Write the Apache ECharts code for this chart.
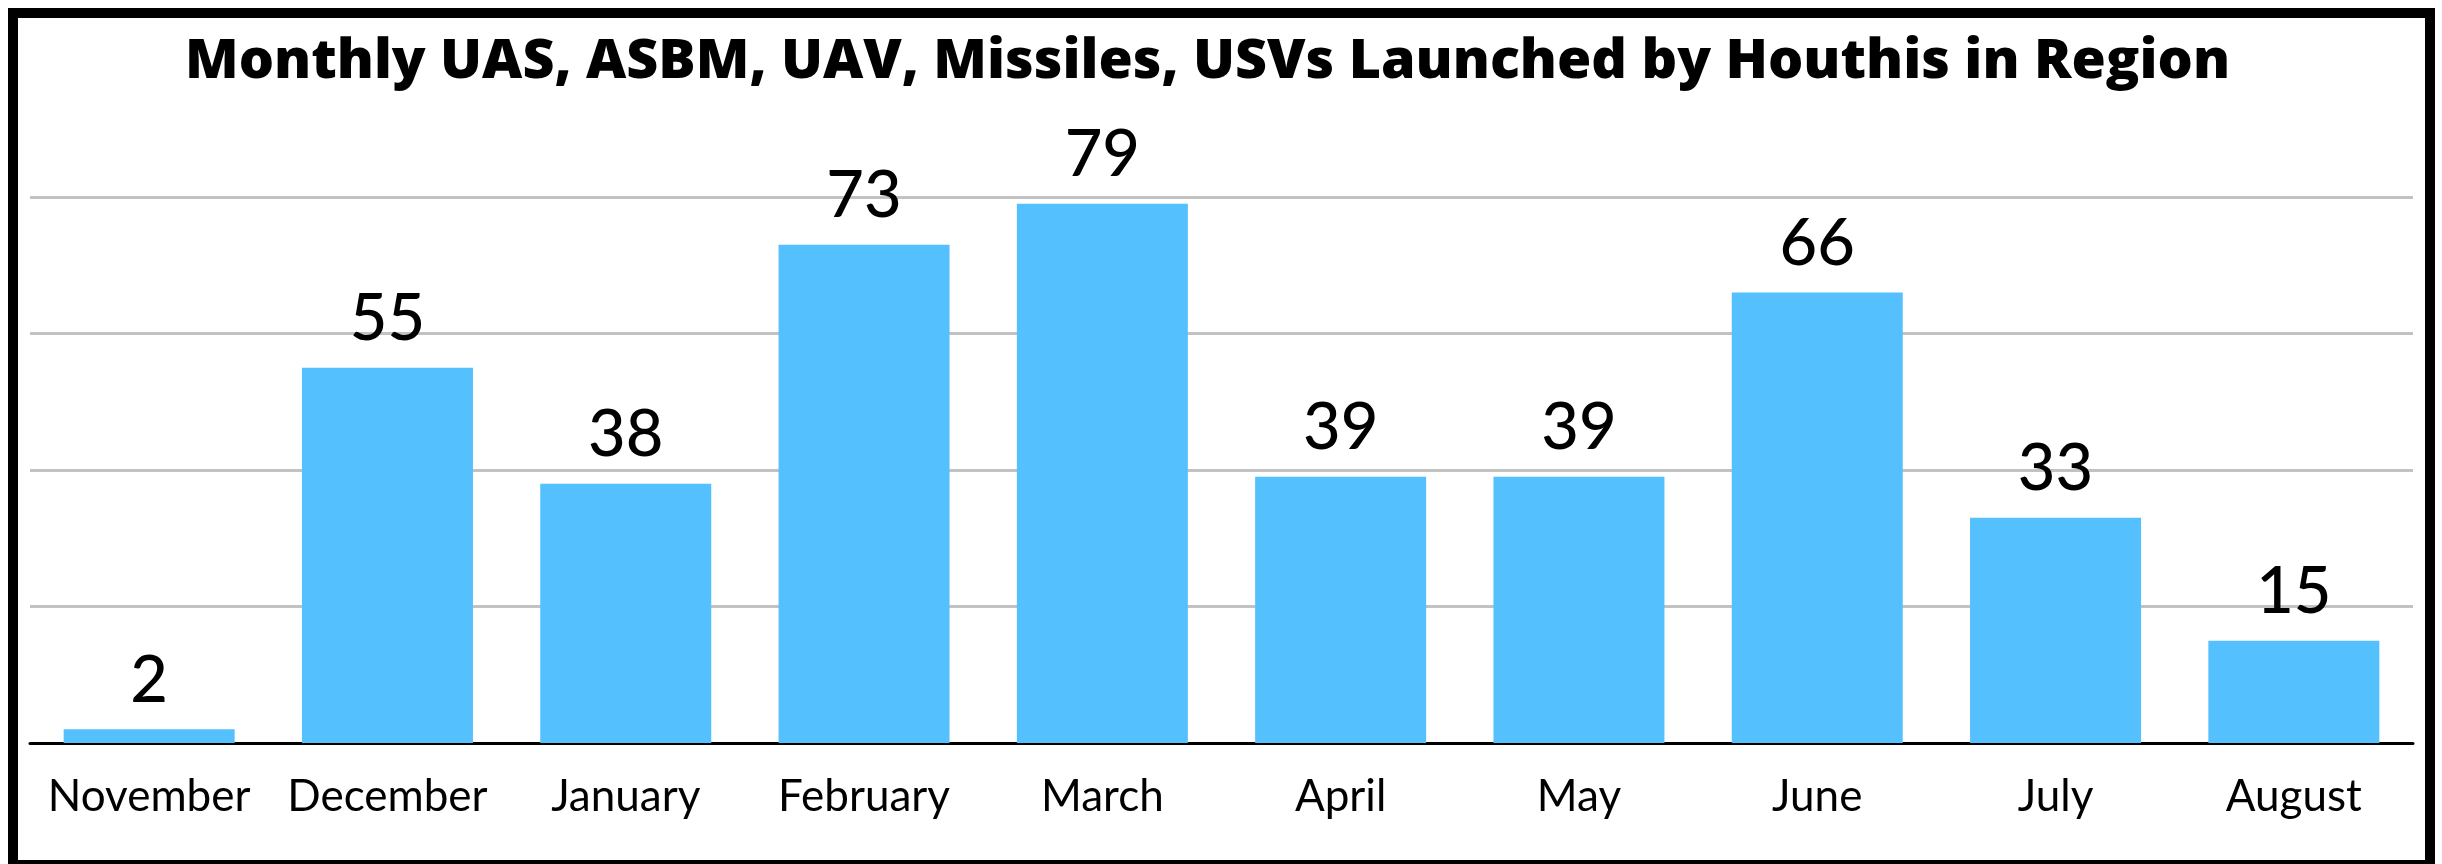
<!DOCTYPE html>
<html>
<head>
<meta charset="utf-8">
<script src="https://cdn.jsdelivr.net/npm/echarts@6/dist/echarts.min.js"></script>
<style>
  html, body { margin: 0; padding: 0; background: #ffffff; }
  #chart { width: 2442px; height: 864px; }
</style>
</head>
<body>
<div id="chart"></div>
<script>
// Monthly launch counts
const months = ['November', 'December', 'January', 'February', 'March', 'April', 'May', 'June', 'July', 'August'];
const launches = [2, 55, 38, 73, 79, 39, 39, 66, 33, 15];
const yTicks = [0, 20, 40, 60, 80];

const titleText = 'Monthly UAS, ASBM, UAV, Missiles, USVs Launched by Houthis in Region';
const fontFamily = 'Lato, "Noto Sans", sans-serif';

const chart = echarts.init(document.getElementById('chart'), null, { renderer: 'canvas' });

chart.setOption({
  backgroundColor: '#ffffff',
  animation: false,
  title: {
    text: titleText,
    left: 180,
    top: 29,
    textStyle: {
      fontFamily: '"Open Sans", Lato, sans-serif',
      fontWeight: 800,
      fontSize: 55.5,
      color: '#000000'
    }
  },
  graphic: [{
    type: 'rect',
    shape: { x: 13, y: 13, width: 2417, height: 852 },
    style: { fill: 'none', stroke: '#000000', lineWidth: 10 },
    silent: true,
    z: 100
  }],
  grid: { left: 30, right: 29, top: 197, bottom: 121 },
  xAxis: {
    type: 'category',
    data: months,
    axisTick: { show: false },
    axisLine: { lineStyle: { color: '#000000', width: 3 } },
    axisLabel: {
      margin: 32,
      fontFamily: fontFamily,
      fontSize: 44,
      color: '#000000',
      interval: 0
    }
  },
  yAxis: {
    type: 'value',
    min: yTicks[0],
    max: yTicks[yTicks.length - 1],
    interval: yTicks[1] - yTicks[0],
    axisLabel: { show: false },
    axisLine: { show: false },
    axisTick: { show: false },
    splitLine: { lineStyle: { color: '#c2c2c2', width: 3 } }
  },
  series: [{
    type: 'bar',
    data: launches,
    barWidth: 171,
    itemStyle: { color: '#54c0fe' },
    label: {
      show: true,
      position: 'top',
      distance: 16,
      fontFamily: fontFamily,
      fontWeight: 500,
      fontSize: 65,
      color: '#000000'
    }
  }]
});
</script>
</body>
</html>
